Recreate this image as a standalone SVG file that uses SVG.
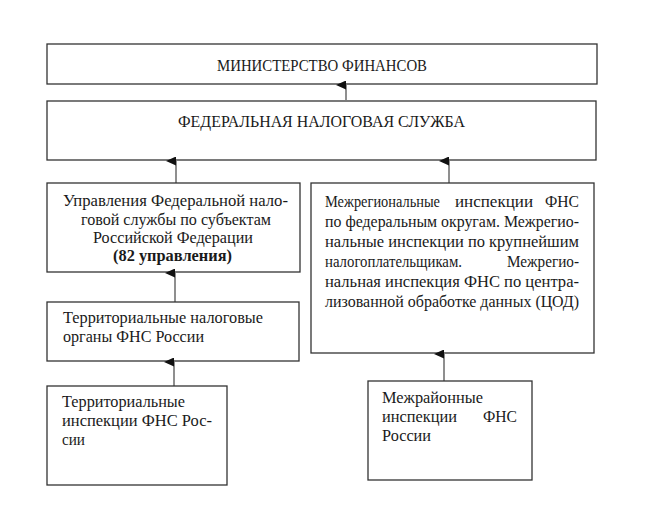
<svg xmlns="http://www.w3.org/2000/svg" width="646" height="510" viewBox="0 0 646 510">
<defs>
<marker id="ah" markerWidth="9" markerHeight="10" refX="4.5" refY="10" orient="auto-start-reverse" markerUnits="userSpaceOnUse" viewBox="0 0 9 10">
<path d="M0,10 L4.5,0 L9,10 Z" fill="#111"/>
</marker>
<style>
.box{fill:#fff;stroke:#333;stroke-width:1.3}
.t{font-size:16.5px;fill:#1a1a1a}
.b{font-weight:bold}
.conn{stroke:#333;stroke-width:1.1;fill:none}
</style>
</defs>
<rect width="646" height="510" fill="#fff"/>
<g font-family="Liberation Serif, serif">
<g id="ministry">
<rect class="box" x="47" y="44" width="550" height="40"/>
<text class="t" x="217" y="71" textLength="210" lengthAdjust="spacingAndGlyphs">МИНИСТЕРСТВО ФИНАНСОВ</text>
</g>
<g id="fns">
<rect class="box" x="47" y="101" width="549" height="59"/>
<text class="t" x="178" y="127" textLength="287" lengthAdjust="spacingAndGlyphs">ФЕДЕРАЛЬНАЯ НАЛОГОВАЯ СЛУЖБА</text>
</g>
<g id="upravleniya">
<rect class="box" x="47" y="183" width="253" height="89"/>
<text class="t" x="63" y="206" textLength="225" lengthAdjust="spacingAndGlyphs">Управления Федеральной нало-</text>
<text class="t" x="81" y="225" textLength="190" lengthAdjust="spacingAndGlyphs">говой службы по субъектам</text>
<text class="t" x="93" y="243" textLength="160" lengthAdjust="spacingAndGlyphs">Российской Федерации</text>
<text class="t b" x="113" y="261" textLength="119" lengthAdjust="spacingAndGlyphs">(82 управления)</text>
</g>
<g id="mezhregionalnye">
<rect class="box" x="311" y="183" width="283" height="170"/>
<text class="t" x="325" y="207" textLength="115" lengthAdjust="spacingAndGlyphs">Межрегиональные</text>
<text class="t" x="455" y="207" textLength="78" lengthAdjust="spacingAndGlyphs">инспекции</text>
<text class="t" x="545" y="207" textLength="34" lengthAdjust="spacingAndGlyphs">ФНС</text>
<text class="t" x="325" y="227" textLength="254" lengthAdjust="spacingAndGlyphs">по федеральным округам. Межрегио-</text>
<text class="t" x="325" y="247" textLength="254" lengthAdjust="spacingAndGlyphs">нальные инспекции по крупнейшим</text>
<text class="t" x="325" y="267" textLength="137" lengthAdjust="spacingAndGlyphs">налогоплательщикам.</text>
<text class="t" x="507" y="267" textLength="72" lengthAdjust="spacingAndGlyphs">Межрегио-</text>
<text class="t" x="325" y="287" textLength="254" lengthAdjust="spacingAndGlyphs">нальная инспекция ФНС по центра-</text>
<text class="t" x="325" y="307" textLength="254" lengthAdjust="spacingAndGlyphs">лизованной обработке данных (ЦОД)</text>
</g>
<g id="territorialnye-organy">
<rect class="box" x="47" y="302" width="252" height="59"/>
<text class="t" x="63" y="323" textLength="200" lengthAdjust="spacingAndGlyphs">Территориальные налоговые</text>
<text class="t" x="63" y="342" textLength="141" lengthAdjust="spacingAndGlyphs">органы ФНС России</text>
</g>
<g id="territorialnye-inspekcii">
<rect class="box" x="47" y="386" width="180" height="99"/>
<text class="t" x="62" y="407" textLength="123" lengthAdjust="spacingAndGlyphs">Территориальные</text>
<text class="t" x="62" y="426" textLength="150" lengthAdjust="spacingAndGlyphs">инспекции ФНС Рос-</text>
<text class="t" x="62" y="445" textLength="23" lengthAdjust="spacingAndGlyphs">сии</text>
</g>
<g id="mezhrayonnye">
<rect class="box" x="368" y="381" width="164" height="99"/>
<text class="t" x="382" y="403" textLength="101" lengthAdjust="spacingAndGlyphs">Межрайонные</text>
<text class="t" x="382" y="422" textLength="75" lengthAdjust="spacingAndGlyphs">инспекции</text>
<text class="t" x="483" y="422" textLength="34" lengthAdjust="spacingAndGlyphs">ФНС</text>
<text class="t" x="382" y="441" textLength="49" lengthAdjust="spacingAndGlyphs">России</text>
</g>
</g>
<g id="connectors">
<line class="conn" x1="346" y1="100" x2="346" y2="85" marker-end="url(#ah)"/>
<line class="conn" x1="176" y1="183" x2="176" y2="161" marker-end="url(#ah)"/>
<line class="conn" x1="449" y1="183" x2="449" y2="161" marker-end="url(#ah)"/>
<line class="conn" x1="175" y1="302" x2="175" y2="273" marker-end="url(#ah)"/>
<line class="conn" x1="174" y1="386" x2="174" y2="362" marker-end="url(#ah)"/>
<line class="conn" x1="444" y1="381" x2="444" y2="354" marker-end="url(#ah)"/>
</g>
</svg>
